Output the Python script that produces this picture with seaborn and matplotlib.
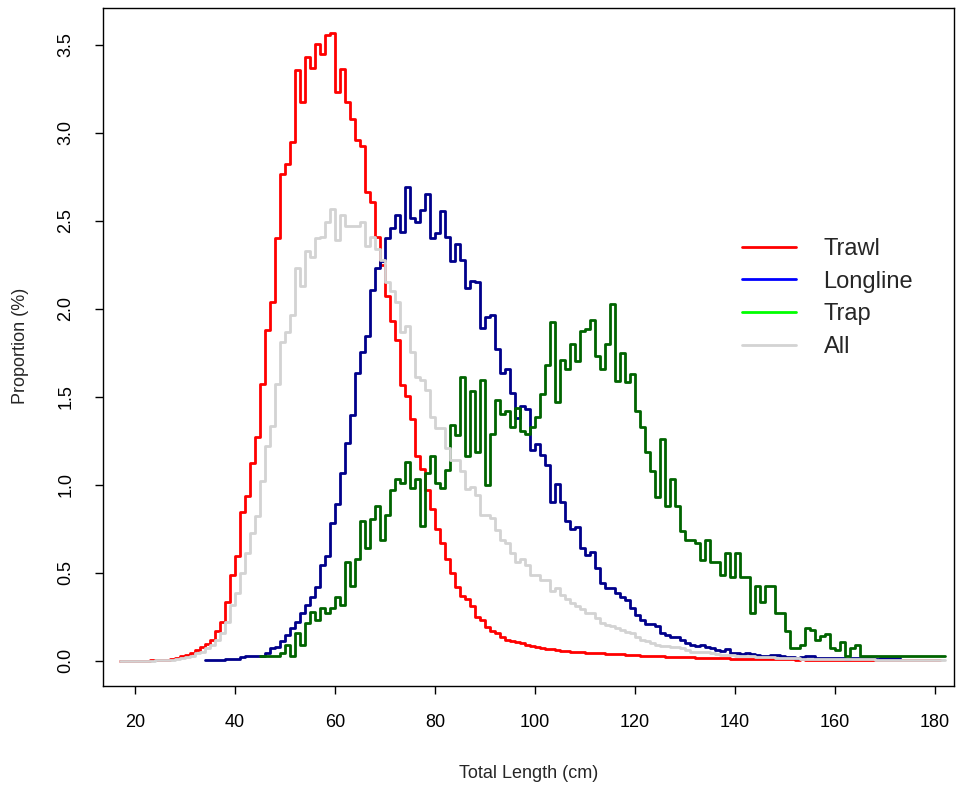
import numpy as np
import pandas as pd
import matplotlib
matplotlib.use("Agg")
import matplotlib.pyplot as plt
import seaborn as sns
from matplotlib.lines import Line2D

sns.set_style("ticks")
plt.rcParams['font.family'] = ['Liberation Sans', 'DejaVu Sans']

# ---------------- data (proportion %, by 1-cm length class) ----------------
trawl_start = 17
trawl = [
    0.0, 0.0, 0.0, 0.0, 0.0, 0.0, 0.002, 0.003, 0.004, 0.006,
    0.010, 0.015, 0.025, 0.034, 0.047, 0.059, 0.081, 0.097, 0.119, 0.167,
    0.223, 0.337, 0.489, 0.597, 0.843, 0.938, 1.123, 1.269, 1.572, 1.880,
    2.036, 2.400, 2.767, 2.824, 2.950, 3.354, 3.175, 3.430, 3.370, 3.503,
    3.450, 3.553, 3.566, 3.230, 3.364, 3.175, 3.080, 2.960, 2.926, 2.663,
    2.606, 2.410, 2.250, 2.070, 1.928, 1.824, 1.568, 1.506, 1.373, 1.165,
    1.090, 0.970, 0.860, 0.750, 0.670, 0.580, 0.500, 0.420, 0.370, 0.350,
    0.310, 0.250, 0.230, 0.195, 0.167, 0.157, 0.138, 0.120, 0.110, 0.105,
    0.100, 0.090, 0.085, 0.080, 0.075, 0.070, 0.066, 0.062, 0.058, 0.055,
    0.052, 0.050, 0.048, 0.046, 0.045, 0.044, 0.044, 0.040, 0.038, 0.040,
    0.036, 0.034, 0.032, 0.033, 0.030, 0.028, 0.028, 0.025, 0.026, 0.024,
    0.022, 0.024, 0.020, 0.019, 0.020, 0.018, 0.017, 0.018, 0.016, 0.015,
    0.014, 0.015, 0.013, 0.012, 0.012, 0.011, 0.012, 0.010, 0.010, 0.009,
    0.010, 0.009, 0.008, 0.008, 0.008, 0.007, 0.008, 0.007, 0.006, 0.007,
    0.006, 0.006, 0.005, 0.006, 0.005, 0.005, 0.005, 0.004, 0.005, 0.004,
    0.004, 0.004, 0.003, 0.004, 0.003, 0.003, 0.003, 0.003, 0.002, 0.003,
    0.002, 0.002, 0.002, 0.002, 0.002,
]

longline_start = 34
longline = [
    0.005, 0.005, 0.005, 0.005, 0.008, 0.011, 0.011, 0.019, 0.025, 0.025,
    0.028, 0.028, 0.047, 0.072, 0.081, 0.110, 0.148, 0.186, 0.223, 0.271,
    0.318, 0.365, 0.422, 0.545, 0.597, 0.782, 0.892, 1.066, 1.237, 1.398,
    1.638, 1.757, 1.848, 2.108, 2.231, 2.269, 2.400, 2.458, 2.534, 2.434,
    2.691, 2.515, 2.496, 2.559, 2.653, 2.400, 2.430, 2.553, 2.410, 2.269,
    2.369, 2.278, 2.117, 2.160, 2.155, 1.890, 1.956, 1.962, 1.773, 1.638,
    1.659, 1.521, 1.379, 1.445, 1.430, 1.199, 1.233, 1.170, 1.114, 0.905,
    1.006, 0.900, 0.797, 0.748, 0.763, 0.640, 0.602, 0.621, 0.527, 0.441,
    0.413, 0.413, 0.385, 0.362, 0.347, 0.300, 0.261, 0.233, 0.210, 0.210,
    0.199, 0.157, 0.148, 0.138, 0.134, 0.119, 0.104, 0.091, 0.087, 0.091,
    0.081, 0.072, 0.063, 0.057, 0.066, 0.047, 0.044, 0.040, 0.044, 0.040,
    0.034, 0.028, 0.025, 0.034, 0.034, 0.025, 0.021, 0.021, 0.018, 0.021,
    0.025, 0.025, 0.015, 0.015, 0.015, 0.015, 0.015, 0.015, 0.010, 0.015,
    0.015, 0.015, 0.015, 0.015, 0.010, 0.015, 0.015, 0.015, 0.015, 0.015,
]

trap_start = 45
trap = [
    0.025, 0.025, 0.025, 0.025, 0.044, 0.091, 0.025, 0.157, 0.091, 0.214,
    0.280, 0.233, 0.300, 0.271, 0.300, 0.365, 0.318, 0.564, 0.426, 0.578,
    0.792, 0.640, 0.805, 0.880, 0.688, 0.830, 0.968, 1.032, 1.010, 1.127,
    0.981, 1.032, 0.767, 1.066, 1.161, 1.013, 0.981, 1.085, 1.341, 1.284,
    1.615, 1.161, 1.534, 1.189, 1.597, 1.000, 1.290, 1.483, 1.403, 1.422,
    1.326, 1.436, 1.303, 1.290, 1.328, 1.388, 1.517, 1.682, 1.924, 1.470,
    1.710, 1.659, 1.799, 1.706, 1.875, 1.886, 1.938, 1.733, 1.659, 1.799,
    2.027, 1.587, 1.748, 1.583, 1.630, 1.417, 1.328, 1.189, 1.081, 0.930,
    1.260, 0.880, 1.032, 0.880, 0.735, 0.688, 0.688, 0.672, 0.574, 0.688,
    0.559, 0.559, 0.489, 0.612, 0.475, 0.612, 0.475, 0.475, 0.271, 0.426,
    0.337, 0.426, 0.426, 0.271, 0.271, 0.172, 0.072, 0.072, 0.091, 0.186,
    0.176, 0.119, 0.142, 0.153, 0.072, 0.063, 0.106, 0.025, 0.072, 0.091,
    0.028, 0.028, 0.028, 0.028, 0.028, 0.028, 0.028, 0.028, 0.028, 0.028,
    0.028, 0.028, 0.028, 0.028, 0.028, 0.028, 0.028, 0.028,
]

all_start = 17
all_gears = [
    0.0, 0.0, 0.0, 0.0, 0.0, 0.0, 0.001, 0.002, 0.003, 0.004,
    0.006, 0.010, 0.015, 0.020, 0.028, 0.047, 0.053, 0.072, 0.091, 0.119,
    0.157, 0.223, 0.318, 0.388, 0.498, 0.612, 0.725, 0.824, 1.019, 1.223,
    1.335, 1.572, 1.809, 1.866, 1.966, 2.231, 2.127, 2.326, 2.297, 2.400,
    2.410, 2.496, 2.567, 2.390, 2.534, 2.470, 2.468, 2.468, 2.496, 2.354,
    2.410, 2.340, 2.280, 2.150, 2.100, 2.040, 1.870, 1.900, 1.757, 1.615,
    1.597, 1.540, 1.388, 1.322, 1.320, 1.208, 1.140, 1.142, 1.076, 0.976,
    0.990, 0.943, 0.830, 0.830, 0.810, 0.744, 0.688, 0.669, 0.612, 0.559,
    0.578, 0.545, 0.489, 0.489, 0.460, 0.460, 0.394, 0.413, 0.375, 0.350,
    0.328, 0.313, 0.294, 0.271, 0.271, 0.243, 0.214, 0.205, 0.200, 0.186,
    0.176, 0.165, 0.157, 0.138, 0.119, 0.110, 0.100, 0.092, 0.085, 0.083,
    0.081, 0.076, 0.072, 0.062, 0.053, 0.053, 0.053, 0.048, 0.044, 0.040,
    0.034, 0.033, 0.031, 0.030, 0.028, 0.027, 0.026, 0.024, 0.022, 0.020,
    0.019, 0.017, 0.015, 0.015, 0.014, 0.014, 0.013, 0.013, 0.012, 0.012,
    0.011, 0.011, 0.010, 0.010, 0.010, 0.009, 0.009, 0.009, 0.008, 0.008,
    0.008, 0.007, 0.007, 0.007, 0.007, 0.006, 0.006, 0.006, 0.006, 0.005,
    0.005, 0.005, 0.005, 0.005, 0.005, 0.005,
]

gear_names = ["Trawl", "Longline", "Trap", "All"]
line_colors = ["#FF0000", "#00008B", "#006400", "#D3D3D3"]
legend_colors = ["#FF0000", "#0000FF", "#00FF00", "#D3D3D3"]
x_ticks = [20, 40, 60, 80, 100, 120, 140, 160, 180]
y_ticks = [0.0, 0.5, 1.0, 1.5, 2.0, 2.5, 3.0, 3.5]

series = [(trawl_start, trawl), (longline_start, longline),
          (trap_start, trap), (all_start, all_gears)]
frames = []
for name, (start, vals) in zip(gear_names, series):
    frames.append(pd.DataFrame({
        "length": np.arange(start, start + len(vals)),
        "prop": vals,
        "gear": name,
    }))
df = pd.concat(frames, ignore_index=True)

# ---------------- figure ----------------
W, H = 956, 787
fig = plt.figure(figsize=(W / 100, H / 100), dpi=100)
L, R, T, B = 103, 954, 8, 686
ax = fig.add_axes([L / W, 1 - B / H, (R - L) / W, (B - T) / H])

sns.lineplot(data=df, x="length", y="prop", hue="gear",
             hue_order=gear_names, palette=dict(zip(gear_names, line_colors)),
             estimator=None, drawstyle="steps-post", linewidth=2.0,
             legend=False, ax=ax)

ax.set_xlim(13.6, 183.8)
ax.set_ylim(-0.143, 3.709)
ax.set_xticks(x_ticks)
ax.set_yticks(y_ticks)
ax.set_yticklabels([f"{v:.1f}" for v in y_ticks], rotation=90, va="center")
ax.tick_params(axis="both", direction="out", length=5.5, width=1,
               labelsize=13, pad=15, colors="black")

for s in ax.spines.values():
    s.set_visible(True)
    s.set_color("black")
    s.set_linewidth(1.0)

ax.set_xlabel("Total Length (cm)", fontsize=13)
ax.set_ylabel("Proportion (%)", fontsize=13)
ax.xaxis.set_label_coords(0.5, -(773 - B) / (B - T))
ax.xaxis.label.set_va("center")
ax.yaxis.set_label_coords(-(L - 20) / (R - L), 1 - (346 - T) / (B - T))
ax.yaxis.label.set_va("center")

handles = [Line2D([0], [0], color=c, lw=2.0) for c in legend_colors]
fig.legend(handles, gear_names, loc="center left",
           bbox_to_anchor=(742 / W, 1 - 298 / H), frameon=False,
           fontsize=17, handlelength=2.3, handletextpad=1.15,
           labelspacing=0.45, borderpad=0, borderaxespad=0)

fig.savefig("out.png", dpi=100)
